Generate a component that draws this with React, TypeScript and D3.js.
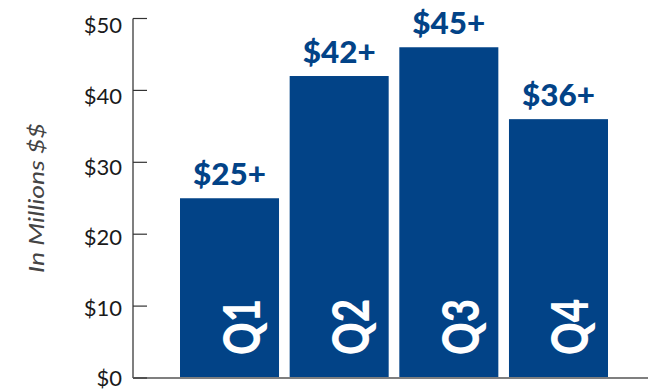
import React from "react";
import * as d3 from "d3";

const categories = ["Q1", "Q2", "Q3", "Q4"];
const values = [25, 42, 46, 36];
const valueLabels = ["$25+", "$42+", "$45+", "$36+"];
const tickValues = [0, 10, 20, 30, 40, 50];
const tickLabels = ["$0", "$10", "$20", "$30", "$40", "$50"];
const yTitle = "In Millions $$";

const W = 648;
const H = 392;
const BLUE = "#024387";
const FONT = "Lato, 'Open Sans', sans-serif";

export default function App() {
  const x = d3.scaleBand<string>().domain(categories).range([180, 608]).paddingInner(0.097).paddingOuter(0);
  const y = d3.scaleLinear().domain([0, 50]).range([378, 18.5]);
  const yLab = d3.scaleLinear().domain([0, 50]).range([378.5, 25.5]);
  const bw = x.bandwidth();
  return (
    <svg width={W} height={H} style={{ position: "absolute", left: 0, top: 0, background: "#fff" }}>
      {categories.map((c, i) => (
        <g key={c}>
          <rect x={x(c)} y={y(values[i])} width={bw} height={y(0) - y(values[i])} fill={BLUE} />
          <text
            x={(x(c) as number) + bw / 2}
            y={y(values[i]) - 13}
            textAnchor="middle"
            fill={BLUE}
            fontFamily={FONT}
            fontWeight={900}
            fontSize={31}
            textLength={73}
            lengthAdjust="spacingAndGlyphs"
          >
            {valueLabels[i]}
          </text>
          <text
            transform={`translate(${(x(c) as number) + bw / 2 + 30},${y(0) - 23}) rotate(-90)`}
            fill="#fff"
            fontFamily={FONT}
            fontWeight={900}
            fontSize={51}
            textLength={56}
            lengthAdjust="spacingAndGlyphs"
          >
            {c}
          </text>
        </g>
      ))}
      <line x1={133} x2={W} y1={y(0)} y2={y(0)} stroke="#7f7f7f" strokeWidth={2} />
      <line x1={133} x2={133} y1={y(50)} y2={y(0)} stroke="#7f7f7f" strokeWidth={2} />
      {tickValues.map((t, i) => (
        <g key={t}>
          <line x1={133} x2={147} y1={y(t)} y2={y(t)} stroke="#333" strokeWidth={1.2} />
          <text
            x={122}
            y={yLab(t)}
            dy="0.36em"
            textAnchor="end"
            fill="#1a1a1a"
            fontFamily={FONT}
            fontSize={22}
          >
            {tickLabels[i]}
          </text>
        </g>
      ))}
      <text
        transform={`translate(44,198) rotate(-90)`}
        textAnchor="middle"
        fill="#444"
        fontFamily={FONT}
        fontStyle="italic"
        fontSize={21}
        textLength={150}
        lengthAdjust="spacingAndGlyphs"
      >
        {yTitle}
      </text>
    </svg>
  );
}
